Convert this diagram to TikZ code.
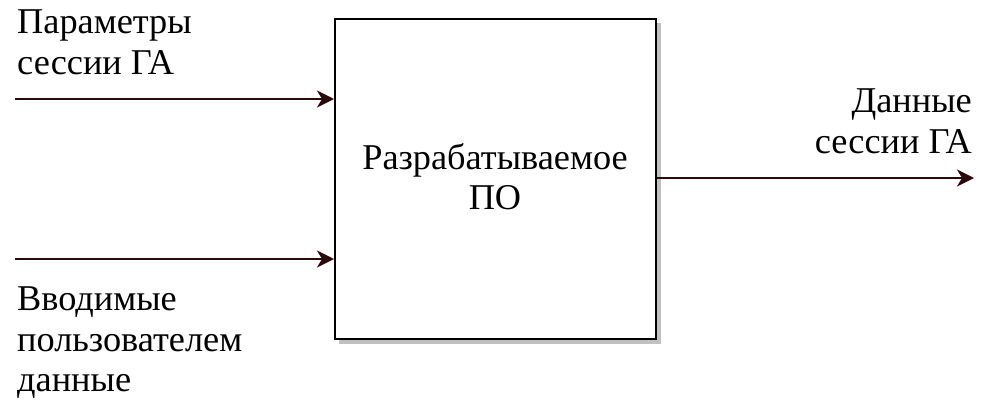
\documentclass[tikz,border=0pt]{standalone}
\usepackage{fontspec}
\usetikzlibrary{arrows.meta}
\setmainfont{Liberation Serif}
\definecolor{arr}{HTML}{2A0A0A}
\definecolor{shad}{HTML}{C0C0C0}
\begin{document}
\begin{tikzpicture}[x=1pt,y=-1pt,
  lbl/.style={font=\fontsize{36.3}{40.5}\selectfont, inner sep=0pt},
  flow/.style={draw=arr, line width=2pt, -{Stealth[length=17pt,width=17pt,inset=5pt]}},
]
\useasboundingbox (0,0) rectangle (994,402);
\fill[shad] (339,23) rectangle (661,344);
\node[draw, line width=2pt, fill=white, minimum width=321pt, minimum height=320pt, inner sep=0pt, anchor=north west] (po) at (334,18) {};
\node[lbl, align=center, anchor=north] (potext) at (495,143) {Разрабатываемое\\ПО};
\coordinate (in1) at (15,99);
\coordinate (in2) at (15,259);
\coordinate (out) at (974,178);
\draw[flow] (in1) -- (in1 -| po.west);
\draw[flow] (in2) -- (in2 -| po.west);
\draw[flow] (po.east |- out) -- (out);
\node[lbl, align=left, anchor=north west] (t1) at (17,10) {Параметры\\сессии ГА};
\node[lbl, align=right, anchor=north east] (t2) at (972,89) {Данные\\сессии ГА};
\node[lbl, align=left, anchor=north west] (t3) at (17,287) {Вводимые\\пользователем\\данные};
\end{tikzpicture}
\end{document}
